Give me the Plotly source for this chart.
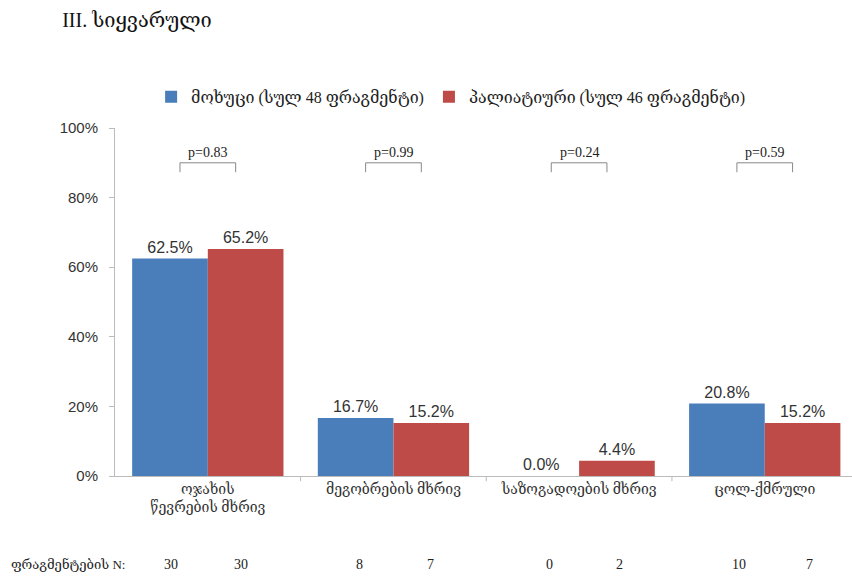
import plotly.graph_objects as go

# --- data ---
categories = ["ოჯახის<br>წევრების მხრივ", "მეგობრების მხრივ", "საზოგადოების მხრივ", "ცოლ-ქმრული"]
series_names = ["მოხუცი (სულ 48 ფრაგმენტი)", "პალიატიური (სულ 46 ფრაგმენტი)"]
elderly_pct = [62.5, 16.7, 0.0, 20.8]
palliative_pct = [65.2, 15.2, 4.4, 15.2]
p_values = ["p=0.83", "p=0.99", "p=0.24", "p=0.59"]
elderly_n = [30, 8, 0, 10]
palliative_n = [30, 7, 2, 7]
y_ticks = [0, 20, 40, 60, 80, 100]

BLUE = "#4A7EBB"
RED = "#BE4B48"
SANS = "Liberation Sans, DejaVu Sans, sans-serif"
SERIF = "Liberation Serif, DejaVu Serif, serif"

fig = go.Figure()
for name, vals, color in [(series_names[0], elderly_pct, BLUE), (series_names[1], palliative_pct, RED)]:
    fig.add_trace(go.Bar(
        x=list(range(len(categories))), y=vals, name=name,
        marker=dict(color=color, line=dict(width=0)),
        text=[f"{v:.1f}%" for v in vals], textposition="outside",
        textfont=dict(family=SANS, size=16, color="#333333"),
        cliponaxis=False,
    ))

# p-value brackets
for i, p in enumerate(p_values):
    fig.add_shape(type="path", xref="x", yref="y",
                  path=f"M {i-0.15},87.3 L {i-0.15},90 L {i+0.15},90 L {i+0.15},87.3",
                  line=dict(color="#888888", width=1))
    fig.add_annotation(x=i, y=90, text=p, showarrow=False, yanchor="bottom", yshift=1,
                       font=dict(family=SERIF, size=14, color="#222222"))

# counts row
half = 0.19
for i in range(len(categories)):
    for xv, n in [(i - half, elderly_n[i]), (i + half, palliative_n[i])]:
        fig.add_annotation(x=xv + 0.02 * i, y=0, xref="x", yref="paper", text=str(n), showarrow=False,
                           yshift=-98, xshift=-2, font=dict(family=SERIF, size=14, color="#222222"))
fig.add_annotation(x=0, y=0, xref="paper", yref="paper", text="ფრაგმენტების N:", showarrow=False,
                   xanchor="right", xshift=12, yshift=-98,
                   font=dict(family=SERIF, size=13, color="#222222"))

fig.update_layout(
    width=852, height=580,
    paper_bgcolor="white", plot_bgcolor="white",
    margin=dict(l=115, r=0, t=128, b=104),
    barmode="group", bargap=0.185, bargroupgap=0,
    title=dict(text="III. სიყვარული", x=0.073, xanchor="left", y=0.966, yanchor="middle",
               font=dict(family=SERIF, size=20, color="#111111")),
    legend=dict(orientation="h", x=0.049, y=0.833, yref="container", yanchor="middle", xanchor="left",
                font=dict(family=SERIF, size=16, color="#222222"), itemwidth=30,
                traceorder="normal"),
    showlegend=True,
    xaxis=dict(
        tickmode="array", tickvals=list(range(len(categories))), ticktext=categories,
        range=[-0.5, len(categories) - 0.53], automargin=False,
        showline=True, linecolor="#BBBBBB", linewidth=1,
        ticks="", showgrid=False, zeroline=False,
        tickfont=dict(family=SERIF, size=14, color="#333333"),
    ),
    yaxis=dict(
        range=[0, 100], tickvals=y_ticks, ticktext=[f"{t}%" for t in y_ticks],
        showline=True, linecolor="#BBBBBB", linewidth=1, automargin=False,
        ticks="outside", ticklen=5, tickcolor="#BBBBBB", ticklabelstandoff=8,
        showgrid=False, zeroline=False,
        tickfont=dict(family=SANS, size=15, color="#333333"),
    ),
)

# boundary ticks on category axis
for b in [0.5, 1.5, 2.5]:
    fig.add_shape(type="line", xref="x", yref="paper", x0=b, x1=b, y0=0, y1=-0.015,
                  line=dict(color="#BBBBBB", width=1))

fig.write_html("out.html", config={"displayModeBar": False},
               post_script="document.body.style.margin='0';")
